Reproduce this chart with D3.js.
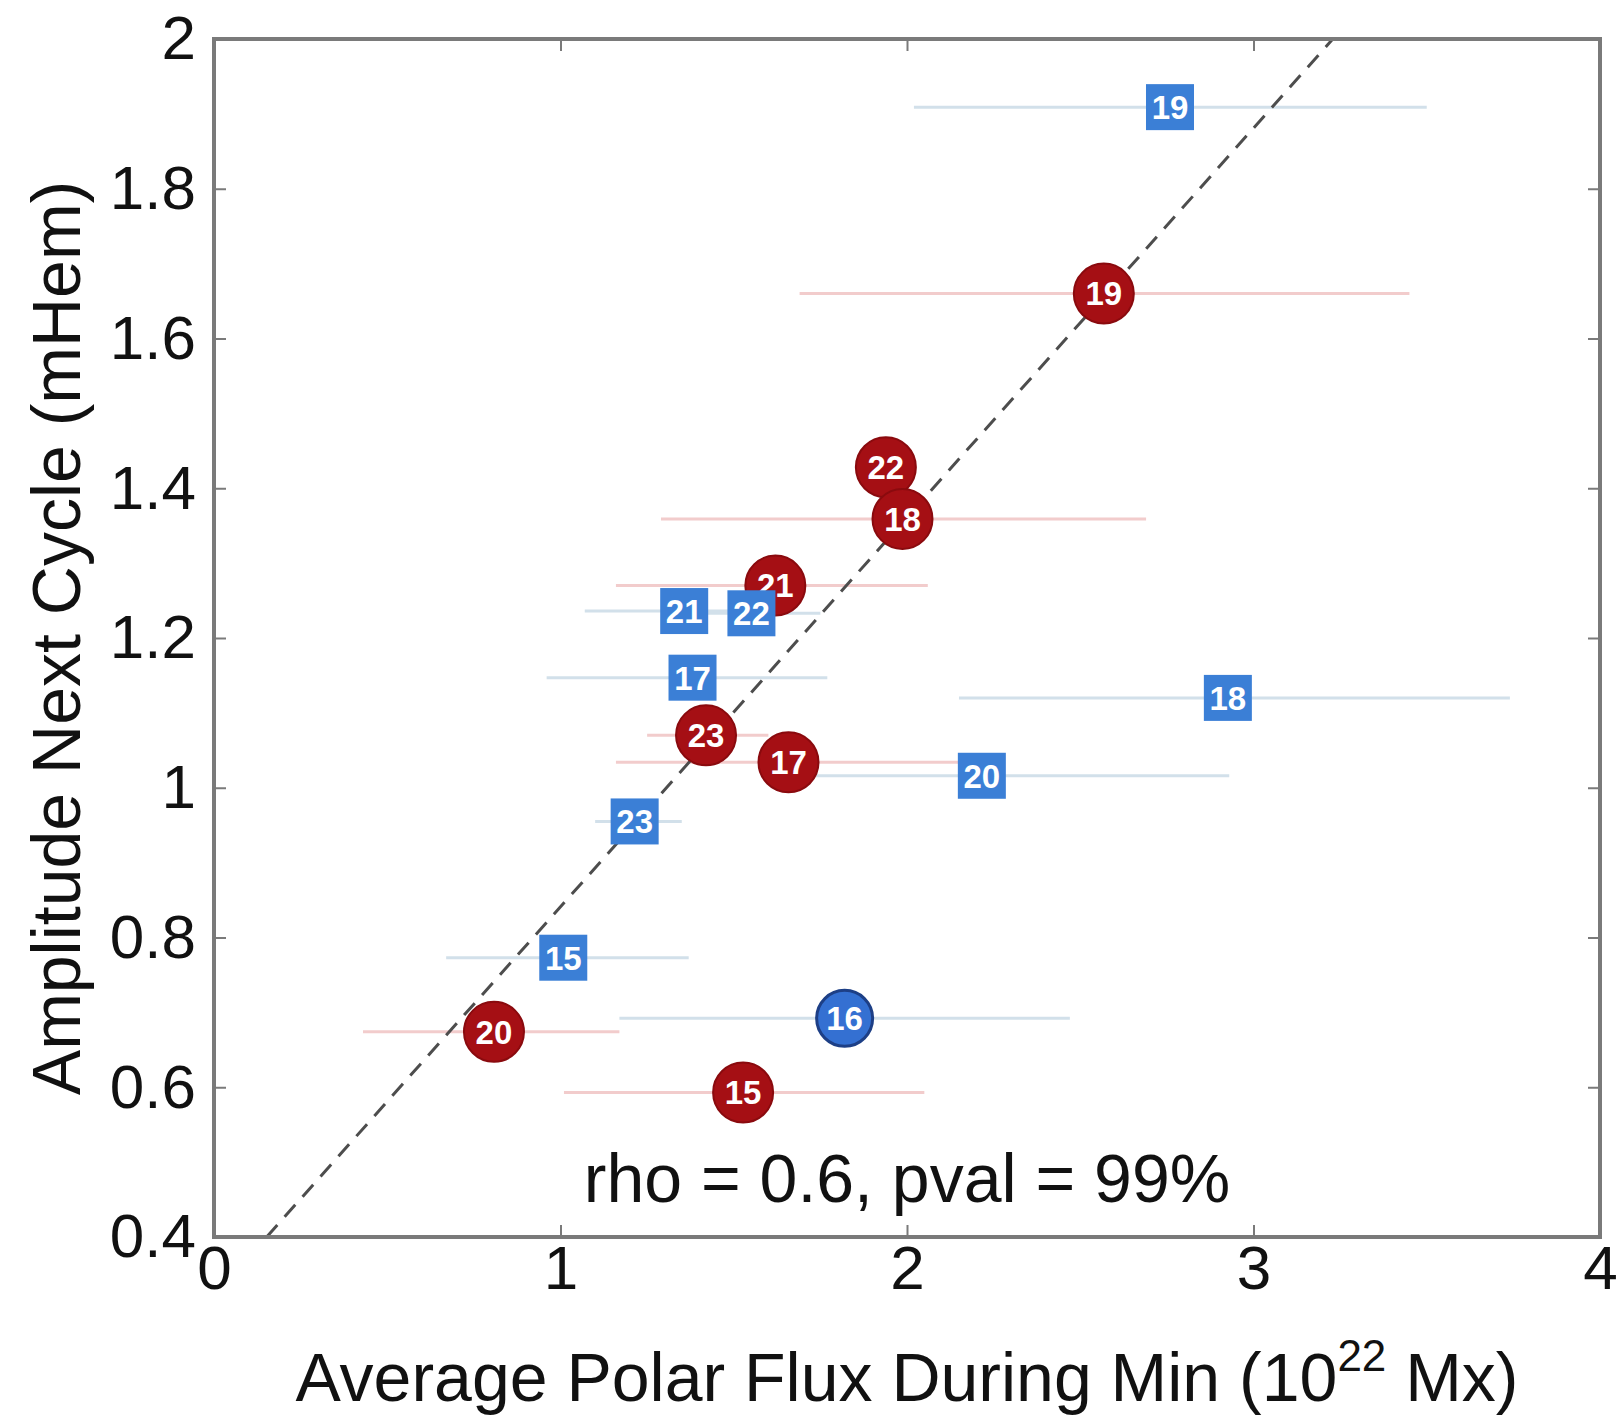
<!DOCTYPE html>
<html>
<head>
<meta charset="utf-8">
<script src="https://cdn.jsdelivr.net/npm/d3@7"></script>
<style>
  html, body { margin: 0; padding: 0; background: #fff; }
  svg { display: block; }
  text { font-family: "Liberation Sans", Arial, Helvetica, sans-serif; }
</style>
</head>
<body>
<svg id="chart" width="1621" height="1420"></svg>
<script>
// ---- data ----
const northCycles = [15, 17, 18, 19, 20, 21, 22, 23];
const northFlux   = [1.527, 1.658, 1.987, 2.568, 0.808, 1.620, 1.939, 1.420];
const northAmp    = [0.593, 1.034, 1.359, 1.660, 0.674, 1.270, 1.428, 1.070];
const northFluxLo = [1.01, 1.16, 1.29, 1.69, 0.43, 1.16, 1.939, 1.25];
const northFluxHi = [2.05, 2.19, 2.69, 3.45, 1.17, 2.06, 1.939, 1.60];

const southCycles = [15, 16, 17, 18, 19, 20, 21, 22, 23];
const southFlux   = [1.008, 1.820, 1.381, 2.926, 2.759, 2.216, 1.357, 1.551, 1.214];
const southAmp    = [0.773, 0.692, 1.147, 1.120, 1.909, 1.016, 1.236, 1.233, 0.955];
const southFluxLo = [0.67, 1.17, 0.96, 2.15, 2.02, 1.71, 1.07, 1.40, 1.10];
const southFluxHi = [1.37, 2.47, 1.77, 3.74, 3.50, 2.93, 1.65, 1.75, 1.35];
const southShape  = ["square", "circle", "square", "square", "square", "square", "square", "square", "square"];

const fitSlope = 0.52;
const fitIntercept = 0.321;
const fitXRange = [0.152, 3.23];

const xTicks = [0, 1, 2, 3, 4];
const yTicks = [0.4, 0.6, 0.8, 1, 1.2, 1.4, 1.6, 1.8, 2];
const annotation = "rho = 0.6, pval = 99%";
const xTitle = ["Average Polar Flux During Min (10", "22", " Mx)"];
const yTitle = "Amplitude Next Cycle (mHem)";

// ---- layout ----
const svg = d3.select("#chart");
const L = 214, R = 1600, T = 39, B = 1237;
const x = d3.scaleLinear().domain([0, 4]).range([L, R]);
const y = d3.scaleLinear().domain([0.4, 2]).range([B, T]);
const fmt = d => String(d);

const north = northCycles.map((c, i) => ({c, x: northFlux[i], y: northAmp[i], lo: northFluxLo[i], hi: northFluxHi[i]}));
const south = southCycles.map((c, i) => ({c, x: southFlux[i], y: southAmp[i], lo: southFluxLo[i], hi: southFluxHi[i], shape: southShape[i]}));

const axisColor = "#7a7a7a";

// axes
const gB = svg.append("g").attr("transform", `translate(0,${B})`)
  .call(d3.axisBottom(x).tickValues(xTicks).tickFormat(fmt).tickSizeInner(-12).tickSizeOuter(0).tickPadding(8));
const gT = svg.append("g").attr("transform", `translate(0,${T})`)
  .call(d3.axisTop(x).tickValues(xTicks).tickFormat("").tickSizeInner(-12).tickSizeOuter(0));
const gLft = svg.append("g").attr("transform", `translate(${L},0)`)
  .call(d3.axisLeft(y).tickValues(yTicks).tickFormat(fmt).tickSizeInner(-12).tickSizeOuter(0).tickPadding(18));
const gRt = svg.append("g").attr("transform", `translate(${R},0)`)
  .call(d3.axisRight(y).tickValues(yTicks).tickFormat("").tickSizeInner(-12).tickSizeOuter(0));
[gB, gT, gLft, gRt].forEach(g => {
  g.select(".domain").remove();
  g.selectAll(".tick line").attr("stroke", axisColor).attr("stroke-width", 2);
  g.selectAll(".tick text").attr("fill", "#111").attr("font-size", 62)
    .style("font-family", "'Liberation Sans', Arial, sans-serif");
});

// error bars
svg.append("g").selectAll("line").data(north).join("line")
  .attr("x1", d => x(d.lo)).attr("x2", d => x(d.hi))
  .attr("y1", d => y(d.y)).attr("y2", d => y(d.y))
  .attr("stroke", "#f2cccc").attr("stroke-width", 3);
svg.append("g").selectAll("line").data(south).join("line")
  .attr("x1", d => x(d.lo)).attr("x2", d => x(d.hi))
  .attr("y1", d => y(d.y)).attr("y2", d => y(d.y))
  .attr("stroke", "#d2e0ea").attr("stroke-width", 3);

// fit line
svg.append("line")
  .attr("x1", x(fitXRange[0])).attr("y1", y(fitSlope * fitXRange[0] + fitIntercept))
  .attr("x2", x(fitXRange[1])).attr("y2", y(fitSlope * fitXRange[1] + fitIntercept))
  .attr("stroke", "#4d4d4d").attr("stroke-width", 3).attr("stroke-dasharray", "16,11");

// frame
svg.append("rect").attr("x", L).attr("y", T).attr("width", R - L).attr("height", B - T)
  .attr("fill", "none").attr("stroke", axisColor).attr("stroke-width", 4);

// north markers (circles), reverse order so earlier cycles sit on top
const gN = svg.append("g").selectAll("g").data(north.slice().reverse()).join("g")
  .attr("transform", d => `translate(${x(d.x)},${y(d.y)})`);
gN.append("circle").attr("r", 30).attr("fill", "#a50f14").attr("stroke", "#8a0a0e").attr("stroke-width", 2);
gN.append("text").text(d => d.c).attr("text-anchor", "middle").attr("dy", "0.36em")
  .attr("fill", "#fff").attr("font-size", 33).attr("font-weight", "bold");

// south markers
const gS = svg.append("g").selectAll("g").data(south).join("g")
  .attr("transform", d => `translate(${x(d.x)},${y(d.y)})`);
gS.filter(d => d.shape === "square").append("rect")
  .attr("x", -24).attr("y", -23).attr("width", 48).attr("height", 46)
  .attr("fill", "#3b7fd6");
gS.filter(d => d.shape === "circle").append("circle")
  .attr("r", 28).attr("fill", "#3470d2").attr("stroke", "#1d3f86").attr("stroke-width", 3);
gS.append("text").text(d => d.c).attr("text-anchor", "middle").attr("dy", "0.36em")
  .attr("fill", "#fff").attr("font-size", 33).attr("font-weight", "bold");

// annotation
svg.append("text").attr("x", x(2.0)).attr("y", 1202).attr("text-anchor", "middle")
  .attr("font-size", 68).attr("fill", "#111").text(annotation);

// x title
const xt = svg.append("text").attr("x", (L + R) / 2).attr("y", 1401).attr("text-anchor", "middle")
  .attr("font-size", 68).attr("fill", "#111");
xt.append("tspan").text(xTitle[0]);
xt.append("tspan").attr("font-size", 44).attr("dy", -30).text(xTitle[1]);
xt.append("tspan").attr("dy", 30).text(xTitle[2]);

// y title
svg.append("text").attr("transform", `translate(80,${(T + B) / 2}) rotate(-90)`)
  .attr("text-anchor", "middle").attr("font-size", 68).attr("fill", "#111").text(yTitle);
</script>
</body>
</html>
